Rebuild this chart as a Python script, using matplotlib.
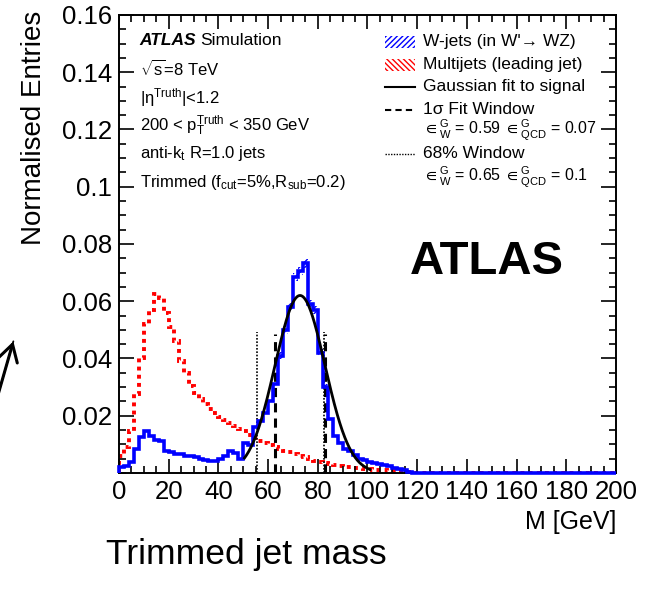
import numpy as np
import matplotlib
matplotlib.use('Agg')
import matplotlib.pyplot as plt
from matplotlib.patches import Rectangle, FancyArrowPatch
from matplotlib.lines import Line2D

# 2 GeV bins from 0 to 200 GeV
mass_edges = np.arange(0, 202, 2)

# W-jets (in W' -> WZ), normalised entries per bin
wjets = [0.002, 0.0025, 0.004, 0.0085, 0.0125, 0.0145, 0.013, 0.0115, 0.011, 0.0075,
	0.0072, 0.0068, 0.0065, 0.006, 0.0058, 0.0055, 0.005, 0.0045, 0.0042, 0.0042,
	0.005, 0.0058, 0.0078, 0.007, 0.005, 0.0105, 0.0098, 0.016, 0.018, 0.021,
	0.025, 0.031, 0.041, 0.050, 0.058, 0.0685, 0.0705, 0.0733, 0.059, 0.057,
	0.042, 0.030, 0.0188, 0.013, 0.0105, 0.0082, 0.0075, 0.0062, 0.005, 0.0045,
	0.004, 0.0036, 0.0032, 0.0028, 0.0024, 0.0019, 0.0015, 0.0012, 0.0004, 0.0] + [0.0] * 40

# Multijets (leading jet)
multijets = [0.006, 0.009, 0.0145, 0.0275, 0.040, 0.052, 0.057, 0.0625, 0.061, 0.056,
	0.051, 0.046, 0.039, 0.035, 0.0305, 0.028, 0.026, 0.024, 0.0222, 0.021,
	0.0197, 0.0185, 0.0175, 0.0165, 0.0155, 0.0145, 0.0133, 0.0122, 0.0113, 0.0105,
	0.0097, 0.009, 0.0084, 0.0078, 0.0072, 0.0066, 0.006, 0.0055, 0.005, 0.0042,
	0.0037, 0.0034, 0.003, 0.0027, 0.0024, 0.0022, 0.002, 0.0018, 0.0016, 0.0015,
	0.0013, 0.0012, 0.0011, 0.001, 0.0008, 0.0006, 0.0005, 0.0003, 0.0002, 0.0001] + [0.0] * 40

# stat. uncertainty shown as hatch around the W-jets peak (bins 64-84 GeV)
wjets_err_edges = np.arange(64, 86, 2)
wjets_err = [0.0012, 0.0013, 0.0014, 0.0015, 0.0015, 0.0016, 0.0014, 0.0013, 0.0012, 0.0010]

# Gaussian fit to signal
fit_mean = 72.85
fit_sigma = 10.05
fit_peak = 0.0620
fit_range = [50.5, 101.0]

# windows: 1 sigma fit window and 68% window
sigma_window = [fit_mean - fit_sigma, fit_mean + fit_sigma]
sigma_window_top = 0.0485
window68 = [55.5, 82.5]
window68_top = 0.0494

yticks = [0.02, 0.04, 0.06, 0.08, 0.1, 0.12, 0.14, 0.16]
ytick_labels = ['0.02', '0.04', '0.06', '0.08', '0.1', '0.12', '0.14', '0.16']

info_lines = [r'$\sqrt{s}$=8 TeV', r'|$\eta^{Truth}$|<1.2',
	r'200 < $p_{T}^{Truth}$ < 350 GeV', r'anti-$k_{t}$ R=1.0 jets',
	r'Trimmed ($f_{cut}$=5%,$R_{sub}$=0.2)']

plt.rcParams['font.family'] = ['Liberation Sans', 'DejaVu Sans']
plt.rcParams['mathtext.fontset'] = 'custom'
plt.rcParams['mathtext.rm'] = 'Liberation Sans'
plt.rcParams['mathtext.it'] = 'Liberation Sans:italic'
plt.rcParams['mathtext.bf'] = 'Liberation Sans:bold'
plt.rcParams['mathtext.default'] = 'regular'
plt.rcParams['hatch.linewidth'] = 1.0


def gauss(x):
	return fit_peak * np.exp(-0.5 * ((x - fit_mean) / fit_sigma) ** 2)


def main():
	fig = plt.figure(figsize=(6.57, 5.89), dpi=100)
	ax = fig.add_axes([0.1811, 0.197, 0.7565, 0.7776])

	# uncertainty hatch
	val = np.array(wjets[32:42])
	err = np.array(wjets_err)
	ax.stairs(val + err, wjets_err_edges, baseline=val - err, fill=True,
		facecolor='none', edgecolor='blue', hatch='//////', lw=0)

	# histograms
	ax.stairs(multijets, mass_edges, color='red', lw=2.8, linestyle=(0, (1, 1.1)))
	ax.stairs(wjets, mass_edges, color='blue', lw=2.6, clip_on=False, zorder=3)

	# gaussian fit
	xs = np.linspace(fit_range[0], fit_range[1], 300)
	ax.plot(xs, gauss(xs), color='black', lw=2.0, zorder=4)

	# windows
	ax.vlines(sigma_window, 0, sigma_window_top, colors='black', lw=2.2, linestyles=(0, (3, 2)))
	ax.vlines(window68, 0, window68_top, colors='black', lw=1.2, linestyles=(0, (1, 1)))

	ax.set_xlim(0, 200)
	ax.set_ylim(0, 0.16)
	ax.set_xticks(np.arange(0, 201, 20))
	ax.set_xticks(np.arange(0, 201, 5), minor=True)
	ax.set_yticks(yticks)
	ax.set_yticklabels(ytick_labels)
	ax.set_yticks(np.arange(0, 0.161, 0.005), minor=True)
	ax.tick_params(which='both', direction='in', top=True, right=True, labelsize=18.5, width=1.2)
	ax.tick_params(axis='y', which='major', length=11)
	ax.tick_params(axis='y', which='minor', length=5)
	ax.tick_params(axis='x', which='major', length=10)
	ax.tick_params(axis='x', which='minor', length=5)
	ax.tick_params(axis='x', pad=5)
	ax.tick_params(axis='y', pad=5)
	for s in ax.spines.values():
		s.set_linewidth(1.4)

	ax.set_ylabel('Normalised Entries', fontsize=20, loc='top')
	ax.yaxis.set_label_coords(-0.145, 1.01)
	ax.set_xlabel('M [GeV]', fontsize=18, loc='right')
	ax.xaxis.set_label_coords(1.0, -0.08)

	# ATLAS label block
	ax.text(0.042, 0.945, 'ATLAS', fontsize=12.5, fontweight='bold', fontstyle='italic',
		transform=ax.transAxes, va='center')
	ax.text(0.163, 0.945, 'Simulation', fontsize=12.5, transform=ax.transAxes, va='center')
	ys = [0.882, 0.82, 0.758, 0.697, 0.635]
	for y, t in zip(ys, info_lines):
		ax.text(0.042, y, t, fontsize=12, transform=ax.transAxes, va='center')

	ax.text(0.74, 0.461, 'ATLAS', fontsize=34, fontweight='bold', transform=ax.transAxes,
		ha='center', va='center')

	# legend drawn by hand
	lx0, lx1, tx = 0.535, 0.596, 0.612
	rows = [0.941, 0.891, 0.843, 0.793, 0.747, 0.697, 0.646]
	ax.add_patch(Rectangle((lx0, rows[0] - 0.013), lx1 - lx0, 0.026, transform=ax.transAxes,
		facecolor='none', edgecolor='blue', hatch='//////', lw=0))
	ax.add_patch(Rectangle((lx0, rows[1] - 0.013), lx1 - lx0, 0.026, transform=ax.transAxes,
		facecolor='none', edgecolor='red', hatch='\\\\\\\\\\\\', lw=0))
	ax.add_line(Line2D([lx0, lx1], [rows[2]] * 2, transform=ax.transAxes, color='black', lw=1.5))
	ax.add_line(Line2D([lx0, lx1], [rows[3]] * 2, transform=ax.transAxes, color='black', lw=1.5,
		linestyle=(0, (3, 2))))
	ax.add_line(Line2D([lx0, lx1], [rows[5]] * 2, transform=ax.transAxes, color='black', lw=1.0,
		linestyle=(0, (1, 1))))
	labels = ["W-jets (in W'\u2192 WZ)", 'Multijets (leading jet)', 'Gaussian fit to signal',
		'1\u03c3 Fit Window', '68% Window']
	for y, t in zip([rows[0], rows[1], rows[2], rows[3], rows[5]], labels):
		ax.text(tx, y, t, fontsize=12.5, transform=ax.transAxes, va='center')
	eff_lines = [r'$\in^{G}_{W}$ = 0.59 $\in^{G}_{QCD}$ = 0.07',
		r'$\in^{G}_{W}$ = 0.65 $\in^{G}_{QCD}$ = 0.1']
	for y, t in zip([rows[4], rows[6]], eff_lines):
		ax.text(tx, y, t, fontsize=11.5, transform=ax.transAxes, va='center')

	# caption and arrow below/left of the plot
	fig.text(0.161, 0.058, 'Trimmed jet mass', fontsize=25.5, va='center', ha='left')
	fig.add_artist(FancyArrowPatch((-0.005, 0.322), (0.0215, 0.425),
		transform=fig.transFigure, arrowstyle='-', lw=1.3, color='black'))
	fig.add_artist(FancyArrowPatch((-0.005, 0.322), (0.0215, 0.425),
		transform=fig.transFigure, arrowstyle='->,head_length=0.6,head_width=0.35', lw=2.2,
		color='black', mutation_scale=20))

	fig.savefig('out.png', dpi=100)


if __name__ == "__main__":
	main()
